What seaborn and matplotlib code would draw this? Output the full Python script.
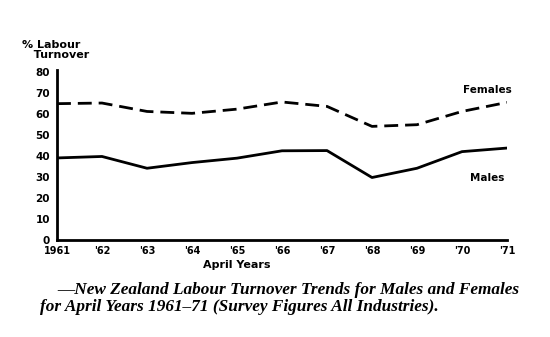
import matplotlib
matplotlib.use("Agg")
import matplotlib.pyplot as plt
import seaborn as sns
import pandas as pd

years = [1961, 1962, 1963, 1964, 1965, 1966, 1967, 1968, 1969, 1970, 1971]
females = [64.8, 65.1, 61.1, 60.2, 62.2, 65.6, 63.5, 54.0, 54.8, 61.1, 65.4]
males = [39.0, 39.7, 34.1, 36.8, 38.9, 42.4, 42.5, 29.7, 34.1, 42.0, 43.7]
x_tick_labels = ["1961", "'62", "'63", "'64", "'65", "'66", "'67", "'68", "'69", "'70", "'71"]
y_ticks = [0, 10, 20, 30, 40, 50, 60, 70, 80]

df = pd.DataFrame({
    "Year": years * 2,
    "Turnover": females + males,
    "Sex": ["Females"] * len(years) + ["Males"] * len(years),
})

sns.set_theme(style="white")
plt.rcParams["font.family"] = ["DejaVu Sans"]
plt.rcParams["text.color"] = "black"
plt.rcParams["xtick.color"] = "black"
plt.rcParams["ytick.color"] = "black"

W, H = 550, 337
fig = plt.figure(figsize=(5.5, 3.37), dpi=100)
ax = fig.add_axes([57 / W, 1 - 240 / H, (507 - 57) / W, (240 - 70) / H])

sns.lineplot(data=df, x="Year", y="Turnover", style="Sex", hue="Sex",
             palette={"Females": "black", "Males": "black"},
             dashes={"Females": (5, 2.5), "Males": ""},
             linewidth=2.0, legend=False, ax=ax)

ax.set_xlim(1961, 1971)
ax.set_ylim(0, 80.8)
ax.set_xticks(years)
ax.set_xticklabels(x_tick_labels, fontsize=7, fontweight="bold", color="black")
ax.set_yticks(y_ticks)
ax.set_yticklabels([str(v) for v in y_ticks], fontsize=7.5, fontweight="bold", color="black")
ax.tick_params(axis="x", direction="in", length=6, width=1.5, pad=4, colors="black")
ax.tick_params(axis="y", direction="out", length=4, width=1.5, pad=1, colors="black")
for s in ["top", "right"]:
    ax.spines[s].set_visible(False)
for s in ["left", "bottom"]:
    ax.spines[s].set_color("black")
    ax.spines[s].set_linewidth(2)
ax.set_xlabel("")
ax.set_ylabel("")

fig.text(22 / W, 1 - 50 / H, "% Labour\n   Turnover", fontsize=8, fontweight="bold",
         ha="left", va="center", linespacing=0.95, color="black")
fig.text(237 / W, 1 - 265 / H, "April Years", fontsize=8, fontweight="bold",
         ha="center", va="center", color="black")
fig.text(487 / W, 1 - 90 / H, "Females", fontsize=7.5, fontweight="bold",
         ha="center", va="center", color="black")
fig.text(487 / W, 1 - 178 / H, "Males", fontsize=7.5, fontweight="bold",
         ha="center", va="center", color="black")

fig.text(57 / W, 1 - 290 / H,
         "\u2014New Zealand Labour Turnover Trends for Males and Females",
         fontsize=12.4, family="Liberation Serif", style="italic", fontweight="bold",
         ha="left", va="center", color="black")
fig.text(40 / W, 1 - 307 / H,
         "for April Years 1961\u201371 (Survey Figures All Industries).",
         fontsize=12.4, family="Liberation Serif", style="italic", fontweight="bold",
         ha="left", va="center", color="black")

fig.savefig("out.png", dpi=100, facecolor="white")
